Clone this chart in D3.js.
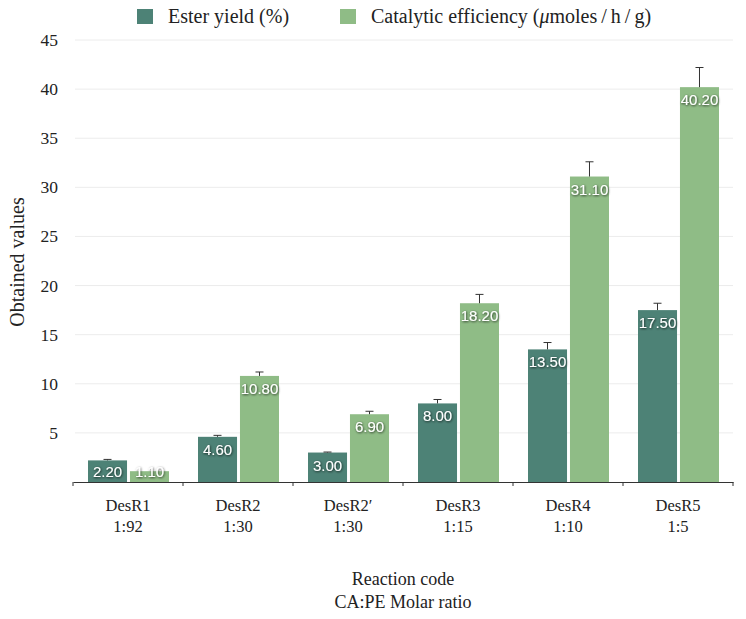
<!DOCTYPE html>
<html>
<head>
<meta charset="utf-8">
<script src="https://cdn.jsdelivr.net/npm/d3@7"></script>
<style>
  body { margin: 0; background: #fff; }
  .serif { font-family: "Liberation Serif", "DejaVu Serif", serif; fill: #222; }
  .val { font-family: "Liberation Sans", Arial, sans-serif; font-size: 15px; fill: #fff; }
</style>
</head>
<body>
<script>
const codes = ["DesR1", "DesR2", "DesR2\u2032", "DesR3", "DesR4", "DesR5"];
const ratios = ["1:92", "1:30", "1:30", "1:15", "1:10", "1:5"];
const series = ["Ester yield (%)", "Catalytic efficiency (\u03bcmoles/h/g)"];
const esterYield = [2.2, 4.6, 3.0, 8.0, 13.5, 17.5];
const esterErr = [0.1, 0.15, 0.05, 0.4, 0.7, 0.7];
const catEff = [1.1, 10.8, 6.9, 18.2, 31.1, 40.2];
const catErr = [0, 0.4, 0.3, 0.9, 1.5, 2.0];
const yTicks = [5, 10, 15, 20, 25, 30, 35, 40, 45];
const colors = ["#4d8276", "#8fbc86"];

const w = 746, h = 619;
const plotLeft = 73, plotRight = 733, base = 482, plotTop = 40;

const svg = d3.select("body").append("svg")
  .attr("width", w).attr("height", h);

const defs = svg.append("defs");
defs.append("filter").attr("id", "shadow")
  .attr("x", "-20%").attr("y", "-30%").attr("width", "140%").attr("height", "160%")
  .append("feDropShadow")
  .attr("dx", 0.6).attr("dy", 0.8).attr("stdDeviation", 0.8)
  .attr("flood-color", "#000").attr("flood-opacity", 0.8);

// Scales
const x0 = d3.scaleBand().domain(codes).range([plotLeft, plotRight]);
const x1 = d3.scaleBand().domain(series).range([15, 96]).paddingInner(0.07);
const y = d3.scaleLinear().domain([0, 45]).range([base, plotTop]);

// Grid + y labels
svg.append("g").selectAll("line").data(yTicks).enter().append("line")
  .attr("x1", plotLeft + 2).attr("x2", plotRight)
  .attr("y1", d => y(d)).attr("y2", d => y(d))
  .attr("stroke", "#ececec").attr("stroke-width", 1);

svg.append("g").selectAll("text").data(yTicks).enter().append("text")
  .attr("class", "serif")
  .attr("x", 58).attr("y", d => y(d) + 6)
  .attr("text-anchor", "end")
  .style("font-size", "17.5px")
  .text(d => d);

// Data rows
const rows = codes.map((c, i) => ({
  code: c,
  vals: [
    { s: series[0], v: esterYield[i], e: esterErr[i], k: 0 },
    { s: series[1], v: catEff[i], e: catErr[i], k: 1 }
  ]
}));

const groups = svg.append("g").selectAll("g").data(rows).enter().append("g")
  .attr("transform", d => `translate(${x0(d.code)},0)`);

const cells = groups.selectAll("g").data(d => d.vals).enter().append("g");

cells.append("rect")
  .attr("x", d => x1(d.s))
  .attr("y", d => y(d.v))
  .attr("width", x1.bandwidth())
  .attr("height", d => base - y(d.v))
  .attr("fill", d => colors[d.k]);

// Error bars
cells.filter(d => d.e > 0).append("line")
  .attr("x1", d => x1(d.s) + x1.bandwidth() / 2)
  .attr("x2", d => x1(d.s) + x1.bandwidth() / 2)
  .attr("y1", d => y(d.v)).attr("y2", d => y(d.v + d.e))
  .attr("stroke", "#333").attr("stroke-width", 1);
cells.filter(d => d.e > 0).append("line")
  .attr("x1", d => x1(d.s) + x1.bandwidth() / 2 - 4)
  .attr("x2", d => x1(d.s) + x1.bandwidth() / 2 + 4)
  .attr("y1", d => y(d.v + d.e)).attr("y2", d => y(d.v + d.e))
  .attr("stroke", "#333").attr("stroke-width", 1);

// Value labels
cells.append("text")
  .attr("class", "val")
  .attr("filter", "url(#shadow)")
  .attr("x", d => x1(d.s) + x1.bandwidth() / 2)
  .attr("y", d => Math.min(y(d.v) + 18, base - 5))
  .attr("text-anchor", "middle")
  .text(d => d.v.toFixed(2));

// X axis
const xAxis = d3.axisBottom(x0).tickSize(0).tickFormat("");
const gx = svg.append("g").attr("transform", `translate(0,${base})`).call(xAxis);
gx.select(".domain").attr("stroke", "#333");
const edges = codes.map(c => x0(c)).concat([plotRight]);
gx.selectAll(".edge").data(edges).enter().append("line")
  .attr("x1", d => d).attr("x2", d => d)
  .attr("y1", 0).attr("y2", 4)
  .attr("stroke", "#333");

svg.append("g").selectAll("text").data(codes).enter().append("text")
  .attr("class", "serif")
  .attr("x", d => x0(d) + x0.bandwidth() / 2)
  .attr("y", 511)
  .attr("text-anchor", "middle")
  .style("font-size", "16.5px")
  .text(d => d);
svg.append("g").selectAll("text").data(ratios).enter().append("text")
  .attr("class", "serif")
  .attr("x", (d, i) => x0(codes[i]) + x0.bandwidth() / 2)
  .attr("y", 532)
  .attr("text-anchor", "middle")
  .style("font-size", "16.5px")
  .text(d => d);

// Axis titles
svg.append("text").attr("class", "serif")
  .attr("x", 403).attr("y", 585).attr("text-anchor", "middle")
  .style("font-size", "18px").text("Reaction code");
svg.append("text").attr("class", "serif")
  .attr("x", 403).attr("y", 608).attr("text-anchor", "middle")
  .style("font-size", "18px").text("CA:PE Molar ratio");
svg.append("text").attr("class", "serif")
  .attr("transform", "translate(24,262) rotate(-90)")
  .attr("text-anchor", "middle")
  .style("font-size", "20px").text("Obtained values");

// Legend
const legX = [137, 340];
const leg = svg.append("g").selectAll("g").data(series).enter().append("g")
  .attr("transform", (d, i) => `translate(${legX[i]},9)`);
leg.append("rect").attr("width", 16).attr("height", 15)
  .attr("fill", (d, i) => colors[i]);
leg.append("text").attr("class", "serif")
  .attr("x", 31).attr("y", 14)
  .style("font-size", "20px")
  .each(function (d) {
    const t = d3.select(this);
    const m = d.match(/^(.*\()\u03bc(.*)\)$/);
    if (!m) { t.text(d); return; }
    t.append("tspan").text(m[1]);
    t.append("tspan").style("font-style", "italic").text("\u03bc");
    t.append("tspan").text(m[2].split("/").join("\u2009/\u2009") + ")");
  });
</script>
</body>
</html>
